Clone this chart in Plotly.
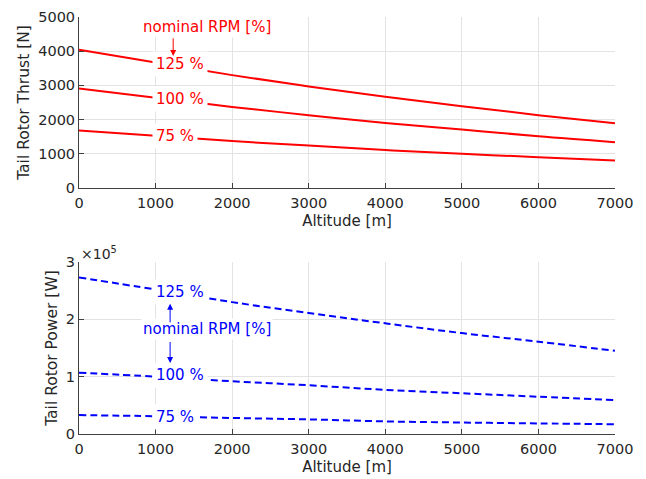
import plotly.graph_objects as go

altitude = [0, 1000, 2000, 3000, 4000, 5000, 6000, 7000]
thrust_125 = [4040, 3670, 3300, 2970, 2670, 2390, 2130, 1890]
thrust_100 = [2910, 2640, 2370, 2130, 1900, 1710, 1510, 1340]
thrust_75 = [1680, 1530, 1370, 1240, 1110, 1000, 900, 800]
power_125 = [273000, 252000, 230000, 211000, 193000, 176000, 161000, 145000]
power_100 = [107000, 100000, 92000, 85000, 77000, 71000, 65000, 59000]
power_75 = [33000, 31000, 28000, 25500, 22000, 20000, 18500, 17000]
rpm_labels = ["125 %", "100 %", "75 %"]
x_ticks = [0, 1000, 2000, 3000, 4000, 5000, 6000, 7000]
thrust_ticks = [0, 1000, 2000, 3000, 4000, 5000]
power_ticks = [0, 100000, 200000, 300000]
power_ticktext = ["0", "1", "2", "3"]

RED = "#ff0000"
BLUE = "#0000ff"
FONT = "DejaVu Sans"
TXT = "#262626"

fig = go.Figure()
for ys in [thrust_125, thrust_100, thrust_75]:
    fig.add_trace(go.Scatter(x=altitude, y=ys, mode="lines", line=dict(color=RED, width=2, shape="spline"),
                             xaxis="x", yaxis="y", showlegend=False, hoverinfo="skip"))
for ys in [power_125, power_100, power_75]:
    fig.add_trace(go.Scatter(x=altitude, y=ys, mode="lines",
                             line=dict(color=BLUE, width=2, dash="7px,4px", shape="spline"),
                             xaxis="x2", yaxis="y2", showlegend=False, hoverinfo="skip"))

axis_common = dict(showgrid=True, gridcolor="#e3e3e3", gridwidth=1, zeroline=False, automargin=False,
                   showline=True, linecolor="#404040", linewidth=1, ticks="inside", ticklen=5,
                   tickcolor="#404040", tickfont=dict(family=FONT, size=14.5, color=TXT), mirror=False)
x_common = dict(axis_common, ticklabelstandoff=2)

annotations = []
# top inline labels
for lab, xv, yv in zip(rpm_labels, [1320, 1320, 1260], [3640, 2600, 1530]):
    annotations.append(dict(x=xv, y=yv, xref="x", yref="y", text=lab, showarrow=False,
                            font=dict(family=FONT, size=15, color=RED), bgcolor="white", borderpad=3))
annotations.append(dict(x=1670, y=4710, xref="x", yref="y", text="nominal RPM [%]", showarrow=False,
                        font=dict(family=FONT, size=15, color=RED), bgcolor="white", borderpad=1))
annotations.append(dict(x=1230, y=3860, ax=1230, ay=4420, xref="x", yref="y", axref="x", ayref="y",
                        text="", showarrow=True, arrowhead=2, arrowsize=1.2, arrowwidth=1, arrowcolor=RED))
# bottom inline labels
for lab, xv, yv in zip(rpm_labels, [1320, 1320, 1260], [247000, 103000, 29000]):
    annotations.append(dict(x=xv, y=yv, xref="x2", yref="y2", text=lab, showarrow=False,
                            font=dict(family=FONT, size=15, color=BLUE), bgcolor="white", borderpad=3))
annotations.append(dict(x=1670, y=183000, xref="x2", yref="y2", text="nominal RPM [%]", showarrow=False,
                        font=dict(family=FONT, size=15, color=BLUE), bgcolor="white", borderpad=1))
annotations.append(dict(x=1190, y=227000, ax=1190, ay=192000, xref="x2", yref="y2", axref="x2", ayref="y2",
                        text="", showarrow=True, arrowhead=2, arrowsize=1.2, arrowwidth=1, arrowcolor=BLUE))
annotations.append(dict(x=1190, y=124000, ax=1190, ay=163000, xref="x2", yref="y2", axref="x2", ayref="y2",
                        text="", showarrow=True, arrowhead=2, arrowsize=1.2, arrowwidth=1, arrowcolor=BLUE))
annotations.append(dict(x=0, y=1.0, xref="x2 domain", yref="y2 domain", xanchor="left", yanchor="bottom",
                        text="×10<sup>5</sup>", showarrow=False, yshift=-2,
                        font=dict(family=FONT, size=14, color=TXT)))

fig.update_layout(
    width=630, height=471,
    margin=dict(l=71, r=23, t=9, b=45),
    paper_bgcolor="white", plot_bgcolor="white",
    font=dict(family=FONT, color=TXT),
    xaxis=dict(x_common, range=[0, 7000], tickvals=x_ticks, anchor="y", domain=[0, 1],
               title=dict(text="Altitude [m]", font=dict(family=FONT, size=15, color=TXT), standoff=5)),
    yaxis=dict(axis_common, range=[0, 5000], tickvals=thrust_ticks, anchor="x", domain=[0.59, 1],
               title=dict(text="Tail Rotor Thrust [N]", font=dict(family=FONT, size=15.5, color=TXT), standoff=4)),
    xaxis2=dict(x_common, range=[0, 7000], tickvals=x_ticks, anchor="y2", domain=[0, 1],
                title=dict(text="Altitude [m]", font=dict(family=FONT, size=15, color=TXT), standoff=5)),
    yaxis2=dict(axis_common, range=[0, 300000], tickvals=power_ticks, ticktext=power_ticktext, anchor="x2",
                domain=[0, 0.4125],
                title=dict(text="Tail Rotor Power [W]", font=dict(family=FONT, size=15.5, color=TXT), standoff=4)),
    annotations=annotations,
)

fig.write_html("out.html")
